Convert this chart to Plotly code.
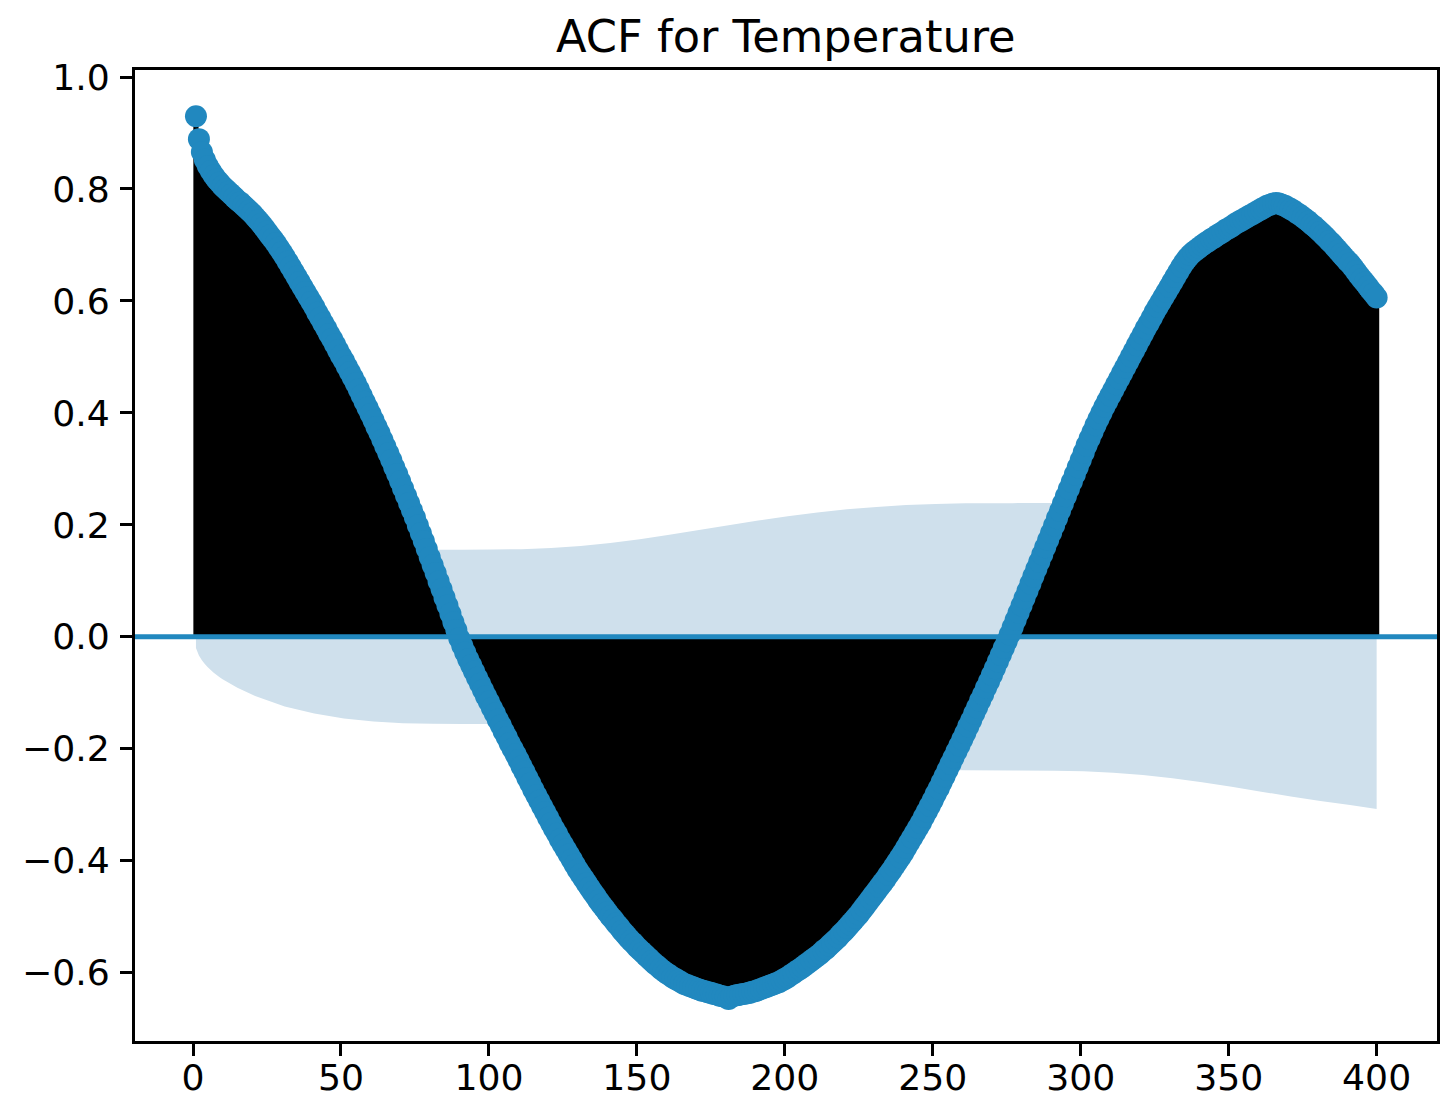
import plotly.graph_objects as go

# ACF values for lags 1..400
acf_values = [
    0.930, 0.889, 0.866, 0.852, 0.841, 0.832, 0.824, 0.817, 0.811, 0.805,
    0.800, 0.795, 0.790, 0.785, 0.780, 0.776, 0.771, 0.766, 0.761, 0.756,
    0.750, 0.744, 0.738, 0.731, 0.724, 0.717, 0.710, 0.703, 0.695, 0.687,
    0.679, 0.670, 0.661, 0.652, 0.643, 0.634, 0.625, 0.616, 0.607, 0.598,
    0.589, 0.579, 0.570, 0.560, 0.551, 0.541, 0.532, 0.522, 0.512, 0.502,
    0.493, 0.483, 0.473, 0.463, 0.453, 0.442, 0.431, 0.420, 0.409, 0.398,
    0.387, 0.375, 0.364, 0.352, 0.340, 0.328, 0.316, 0.303, 0.291, 0.278,
    0.265, 0.252, 0.239, 0.226, 0.213, 0.199, 0.185, 0.171, 0.157, 0.142,
    0.128, 0.114, 0.099, 0.085, 0.070, 0.056, 0.041, 0.026, 0.012, -0.003,
    -0.016, -0.028, -0.040, -0.051, -0.062, -0.073, -0.084, -0.095, -0.106, -0.116,
    -0.127, -0.137, -0.148, -0.158, -0.169, -0.179, -0.190, -0.200, -0.210, -0.220,
    -0.231, -0.241, -0.252, -0.262, -0.273, -0.283, -0.293, -0.303, -0.313, -0.323,
    -0.333, -0.343, -0.352, -0.362, -0.371, -0.380, -0.389, -0.398, -0.407, -0.416,
    -0.424, -0.432, -0.440, -0.448, -0.456, -0.463, -0.471, -0.478, -0.485, -0.492,
    -0.499, -0.505, -0.512, -0.518, -0.525, -0.531, -0.537, -0.543, -0.548, -0.554,
    -0.559, -0.564, -0.569, -0.574, -0.579, -0.584, -0.588, -0.593, -0.597, -0.601,
    -0.604, -0.608, -0.611, -0.614, -0.617, -0.620, -0.622, -0.624, -0.626, -0.628,
    -0.630, -0.632, -0.633, -0.635, -0.636, -0.638, -0.639, -0.641, -0.642, -0.644,
    -0.647, -0.643, -0.641, -0.640, -0.639, -0.638, -0.637, -0.636, -0.634, -0.633,
    -0.631, -0.629, -0.627, -0.625, -0.623, -0.621, -0.619, -0.617, -0.614, -0.611,
    -0.608, -0.604, -0.601, -0.597, -0.594, -0.590, -0.586, -0.582, -0.578, -0.574,
    -0.570, -0.566, -0.561, -0.557, -0.552, -0.547, -0.542, -0.537, -0.531, -0.526,
    -0.520, -0.514, -0.508, -0.502, -0.496, -0.489, -0.482, -0.475, -0.468, -0.461,
    -0.454, -0.447, -0.440, -0.433, -0.425, -0.418, -0.410, -0.402, -0.394, -0.386,
    -0.377, -0.368, -0.359, -0.350, -0.341, -0.332, -0.322, -0.312, -0.302, -0.292,
    -0.281, -0.271, -0.260, -0.249, -0.238, -0.227, -0.216, -0.205, -0.194, -0.183,
    -0.172, -0.160, -0.149, -0.137, -0.126, -0.114, -0.103, -0.091, -0.080, -0.068,
    -0.056, -0.044, -0.032, -0.020, -0.008, 0.004, 0.017, 0.030, 0.043, 0.056,
    0.069, 0.082, 0.095, 0.108, 0.121, 0.134, 0.147, 0.160, 0.173, 0.186,
    0.199, 0.212, 0.225, 0.238, 0.251, 0.264, 0.277, 0.290, 0.303, 0.316,
    0.329, 0.342, 0.354, 0.366, 0.378, 0.389, 0.400, 0.411, 0.421, 0.431,
    0.441, 0.451, 0.461, 0.471, 0.481, 0.491, 0.501, 0.511, 0.521, 0.531,
    0.541, 0.551, 0.560, 0.570, 0.580, 0.589, 0.598, 0.607, 0.616, 0.625,
    0.634, 0.643, 0.652, 0.661, 0.669, 0.676, 0.682, 0.687, 0.691, 0.695,
    0.699, 0.703, 0.706, 0.710, 0.713, 0.717, 0.720, 0.723, 0.727, 0.730,
    0.733, 0.737, 0.740, 0.743, 0.746, 0.749, 0.752, 0.755, 0.758, 0.761,
    0.764, 0.767, 0.770, 0.772, 0.774, 0.775, 0.774, 0.772, 0.770, 0.767,
    0.764, 0.761, 0.757, 0.754, 0.750, 0.746, 0.742, 0.737, 0.733, 0.728,
    0.723, 0.718, 0.713, 0.707, 0.702, 0.696, 0.690, 0.684, 0.678, 0.672,
    0.667, 0.660, 0.653, 0.646, 0.639, 0.633, 0.626, 0.619, 0.613, 0.606,
]
lags = list(range(1, len(acf_values) + 1))

# Confidence band half-width
band_lags = [1, 2, 3, 4, 5, 6, 7, 8, 9, 10, 15, 21, 31, 41, 51, 61, 71, 81, 91, 101,
             111, 121, 131, 141, 151, 161, 171, 181, 191, 201, 211, 221, 231, 241,
             251, 261, 277, 291, 301, 311, 321, 331, 341, 351, 361, 371, 381, 391, 400]
band_halfwidth = [0.0202, 0.0334, 0.0419, 0.0487, 0.0544, 0.0595, 0.0641, 0.0683, 0.0721,
                  0.0758, 0.0912, 0.1059, 0.1243, 0.1371, 0.1457, 0.1512, 0.1542, 0.1553,
                  0.1556, 0.1558, 0.1566, 0.1587, 0.1624, 0.1678, 0.1745, 0.1824, 0.1908,
                  0.1995, 0.2078, 0.2154, 0.2221, 0.2277, 0.2321, 0.2353, 0.2374, 0.2384,
                  0.2388, 0.2391, 0.2402, 0.2428, 0.2470, 0.2527, 0.2599, 0.2680, 0.2766,
                  0.2854, 0.2935, 0.3005, 0.3075]

x_ticks = [0, 50, 100, 150, 200, 250, 300, 350, 400]
y_ticks = [-0.6, -0.4, -0.2, 0.0, 0.2, 0.4, 0.6, 0.8, 1.0]
y_ticktext = ["\u22120.6", "\u22120.4", "\u22120.2", "0.0", "0.2", "0.4", "0.6", "0.8", "1.0"]
title_text = "ACF for Temperature"

BLUE = "#2188bf"
BAND = "#cfe0ec"
FONT = "DejaVu Sans"

fig = go.Figure()

# confidence band (drawn first, underneath)
fig.add_trace(go.Scatter(
    x=band_lags + band_lags[::-1],
    y=band_halfwidth + [-v for v in band_halfwidth[::-1]],
    fill="toself", fillcolor=BAND, mode="none", hoverinfo="skip", showlegend=False,
))

# stems (vertical lines from 0 to each value)
stem_x, stem_y = [], []
for lag, v in zip(lags, acf_values):
    stem_x += [lag, lag, None]
    stem_y += [0, v, None]
fig.add_trace(go.Scatter(
    x=stem_x, y=stem_y, mode="lines", line=dict(color="black", width=5.2),
    hoverinfo="skip", showlegend=False,
))

# markers
fig.add_trace(go.Scatter(
    x=lags, y=acf_values, mode="markers",
    marker=dict(size=22, color=BLUE, line=dict(width=0)), showlegend=False,
))

# zero line
fig.add_shape(type="line", xref="x domain", yref="y", x0=0, x1=1, y0=0, y1=0,
              line=dict(color=BLUE, width=5), layer="above")

fig.add_annotation(text=title_text, xref="paper", yref="paper", x=0.5, y=1,
                   xanchor="center", yanchor="bottom", yshift=6, borderpad=0,
                   showarrow=False,
                   font=dict(family=FONT, size=44.7, color="black"))

axis_common = dict(showgrid=False, zeroline=False, showline=True, linecolor="black",
                   linewidth=2.8, mirror=True, ticks="outside", ticklen=12, tickwidth=2.8,
                   tickcolor="black", automargin=False,
                   tickfont=dict(family=FONT, size=36.2, color="black"))

# the page body adds an 8px offset, so the figure is sized/margined to compensate
fig.update_layout(
    width=1441, height=1091,
    margin=dict(l=127, r=12, t=62, b=58),
    paper_bgcolor="white", plot_bgcolor="white",
    showlegend=False,
    xaxis=dict(range=[-19.6, 420.4], tickvals=x_ticks, ticktext=[str(t) for t in x_ticks],
               ticklabelstandoff=-9, **axis_common),
    yaxis=dict(range=[-0.722, 1.0125], tickvals=y_ticks, ticktext=y_ticktext,
               ticklabelstandoff=3, **axis_common),
)

fig.write_html("out.html")
